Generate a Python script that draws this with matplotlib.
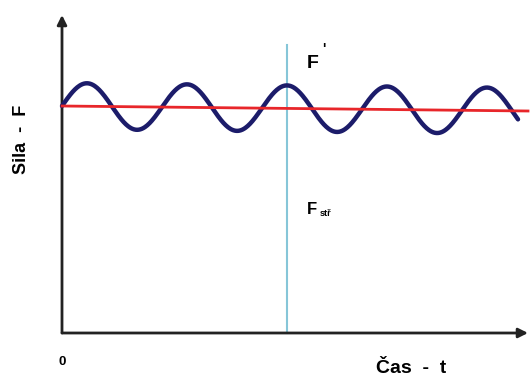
import numpy as np
import matplotlib.pyplot as plt

# =============================================================
# DATA (schematic: oscillating force around a mean value)
# =============================================================
t_end      = 4.56           # last time shown on the curve
t_axis_end = 4.66           # x axis arrow tip
F_axis_end = 3.18           # y axis arrow tip
F_mean     = [2.27, 2.22]   # mean force line at t=0 and t=t_axis_end
amplitude  = 0.23           # amplitude of the oscillation
period     = 1.0            # period of the oscillation
t_marker   = 2.25           # vertical marker line
marker_top = 2.88

t = np.linspace(0, t_end, 600)
F_line = F_mean[0] + (F_mean[1] - F_mean[0]) * t / t_axis_end
F_wave = F_line + amplitude * np.sin(2 * np.pi * t / period)

# =============================================================
# PLOT
# =============================================================
plt.rcParams['font.family'] = ['Liberation Sans', 'DejaVu Sans']
fig = plt.figure(figsize=(5.31, 3.80), dpi=100)
ax = fig.add_axes([0, 0, 1, 1])
ax.set_xlim(-0.62, 4.69)
ax.set_ylim(-0.47, 3.33)
ax.axis("off")

# axes with arrows
ax.annotate("", xy=(0, F_axis_end), xytext=(0, 0),
            arrowprops=dict(arrowstyle="-|>", color="#222222", lw=2,
                            mutation_scale=14, shrinkA=0, shrinkB=0))
ax.annotate("", xy=(t_axis_end, 0), xytext=(0, 0),
            arrowprops=dict(arrowstyle="-|>", color="#222222", lw=2,
                            mutation_scale=14, shrinkA=0, shrinkB=0))

ax.plot([t_marker, t_marker], [0, marker_top], color="#86c6d8", lw=1.5, zorder=2)
ax.plot([0, t_axis_end], F_mean, color="#e8262a", lw=2, zorder=4)
ax.plot(t, F_wave, color="#1c1c6a", lw=3.2, zorder=3, solid_capstyle="round")

# labels
ax.text(-0.0, -0.29, "0", fontsize=9.5, fontweight="bold", ha="center", va="center")
ax.text(3.49, -0.355, "Čas  -  t", fontsize=14, fontweight="bold", ha="center", va="center")
ax.text(-0.40, 1.94, "Sila  -  F", fontsize=13, fontweight="bold", rotation=90,
        ha="center", va="center")
ax.text(2.45, 2.70, "F", fontsize=14, fontweight="bold", ha="left", va="center")
ax.text(2.60, 2.84, "'", fontsize=10, fontweight="bold", ha="left", va="center")
ax.text(2.45, 1.23, "F", fontsize=12, fontweight="bold", ha="left", va="center")
ax.text(2.575, 1.19, "stř", fontsize=6.5, fontweight="bold", ha="left", va="center")

plt.savefig("out.png", dpi=100)
